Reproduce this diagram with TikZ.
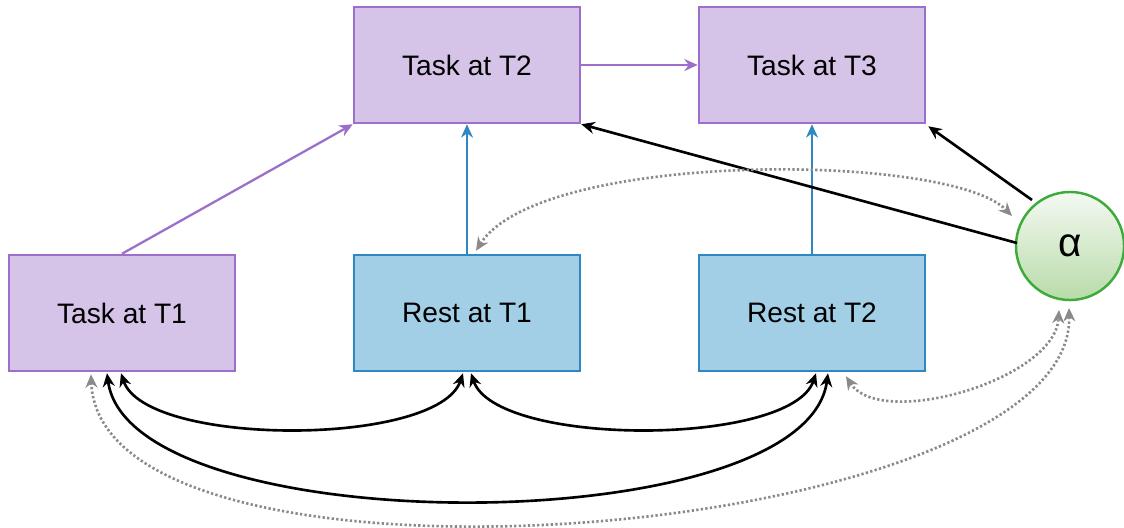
\documentclass[tikz,border=0pt]{standalone}
\usepackage{fontspec}
\setmainfont{Liberation Sans}
\usetikzlibrary{arrows.meta,calc,shadings}
\definecolor{pfill}{HTML}{D5C3E8}
\definecolor{pline}{HTML}{9C6FCB}
\definecolor{bfill}{HTML}{A2CEE6}
\definecolor{bline}{HTML}{2F88C2}
\definecolor{gline}{HTML}{3DAA3A}
\definecolor{gtop}{HTML}{F4F9F2}
\definecolor{gbot}{HTML}{B8DBA9}
\definecolor{dgray}{HTML}{8A8A8A}
\tikzset{
  box/.style={rectangle, minimum width=2.26cm, minimum height=1.16cm, line width=0.7pt, inner sep=0pt,
    font=\fontsize{8}{10}\selectfont},
  taskbox/.style={box, fill=pfill, draw=pline},
  restbox/.style={box, fill=bfill, draw=bline},
  alphanode/.style={circle, minimum size=1.08cm, inner sep=0pt, line width=0.7pt, draw=gline,
    top color=gtop, bottom color=gbot, font=\fontsize{11.5}{13}\selectfont},
  parrow/.style={draw=pline, line width=0.65pt, -{Stealth[length=3.8pt,width=3.4pt]}},
  barrow/.style={draw=bline, line width=0.65pt, -{Stealth[length=3.8pt,width=3.4pt]}},
  karrow/.style={draw=black, line width=0.75pt, -{Stealth[length=3.8pt,width=3.4pt]}},
  kdouble/.style={draw=black, line width=0.75pt, {Stealth[length=3.8pt,width=3.4pt]}-{Stealth[length=3.8pt,width=3.4pt]}},
  gdouble/.style={draw=dgray, line width=0.75pt, dash pattern=on 0.65pt off 0.65pt,
    {Stealth[length=3.8pt,width=3.4pt]}-{Stealth[length=3.8pt,width=3.4pt]}},
}
\begin{document}
\begin{tikzpicture}[x=0.01cm,y=0.01cm]
\useasboundingbox (0,0) rectangle (1124,-527);
% nodes
\node[taskbox] (t2) at (467,-65) {Task at T2};
\node[taskbox] (t3) at (812,-65) {Task at T3};
\node[taskbox] (t1) at (122,-313) {Task at T1};
\node[restbox] (r1) at (467,-313) {Rest at T1};
\node[restbox] (r2) at (812,-313) {Rest at T2};
\node[alphanode] (al) at (1070,-246) {α};
% end points
\coordinate (t1g) at ($(t1.south)+(-31,-2)$);
\coordinate (t1k) at ($(t1.south)+(-15,-1)$);
\coordinate (t1j) at ($(t1.south)+(-1,-1)$);
\coordinate (r1a) at ($(r1.south)+(-4,-1)$);
\coordinate (r1b) at ($(r1.south)+(4,-1)$);
\coordinate (r1g) at ($(r1.north)+(9,3)$);
\coordinate (r2a) at ($(r2.south)+(4,-1)$);
\coordinate (r2b) at ($(r2.south)+(16,-1)$);
\coordinate (r2g) at ($(r2.south)+(34,-4)$);
\coordinate (alg1) at ($(al.center)+(-11,-64)$);
\coordinate (alg2) at ($(al.center)+(-1,-62)$);
\coordinate (alg3) at ($(al.center)+(-58,30)$);
\coordinate (alk1) at ($(al.center)+(-53,3)$);
\coordinate (alk2) at ($(al.center)+(-38,46)$);
% straight arrows
\draw[parrow] (t1.north) -- (t2.south west);
\draw[parrow] (t2.east) -- (t3.west);
\draw[barrow] (r1.north) -- (t2.south);
\draw[barrow] (r2.north) -- (t3.south);
\draw[karrow] (alk1) -- (t2.south east);
\draw[karrow] (alk2) -- ($(t3.south east)+(2,-2)$);
% curved black double arrows
\draw[kdouble] (t1j) .. controls (146,-447) and (438,-447) .. (r1a);
\draw[kdouble] (r1b) .. controls (496,-447) and (791,-447) .. (r2a);
\draw[kdouble] (t1k) .. controls (130,-543) and (805,-543) .. (r2b);
% dotted grey double arrows
\draw[gdouble] (t1g) .. controls (100,-620) and (1075,-540) .. (alg2);
\draw[gdouble] (r2g) .. controls (880,-430) and (1055,-380) .. (alg1);
\draw[gdouble] (r1g) .. controls (540,-150) and (950,-152) .. (alg3);
\end{tikzpicture}
\end{document}
